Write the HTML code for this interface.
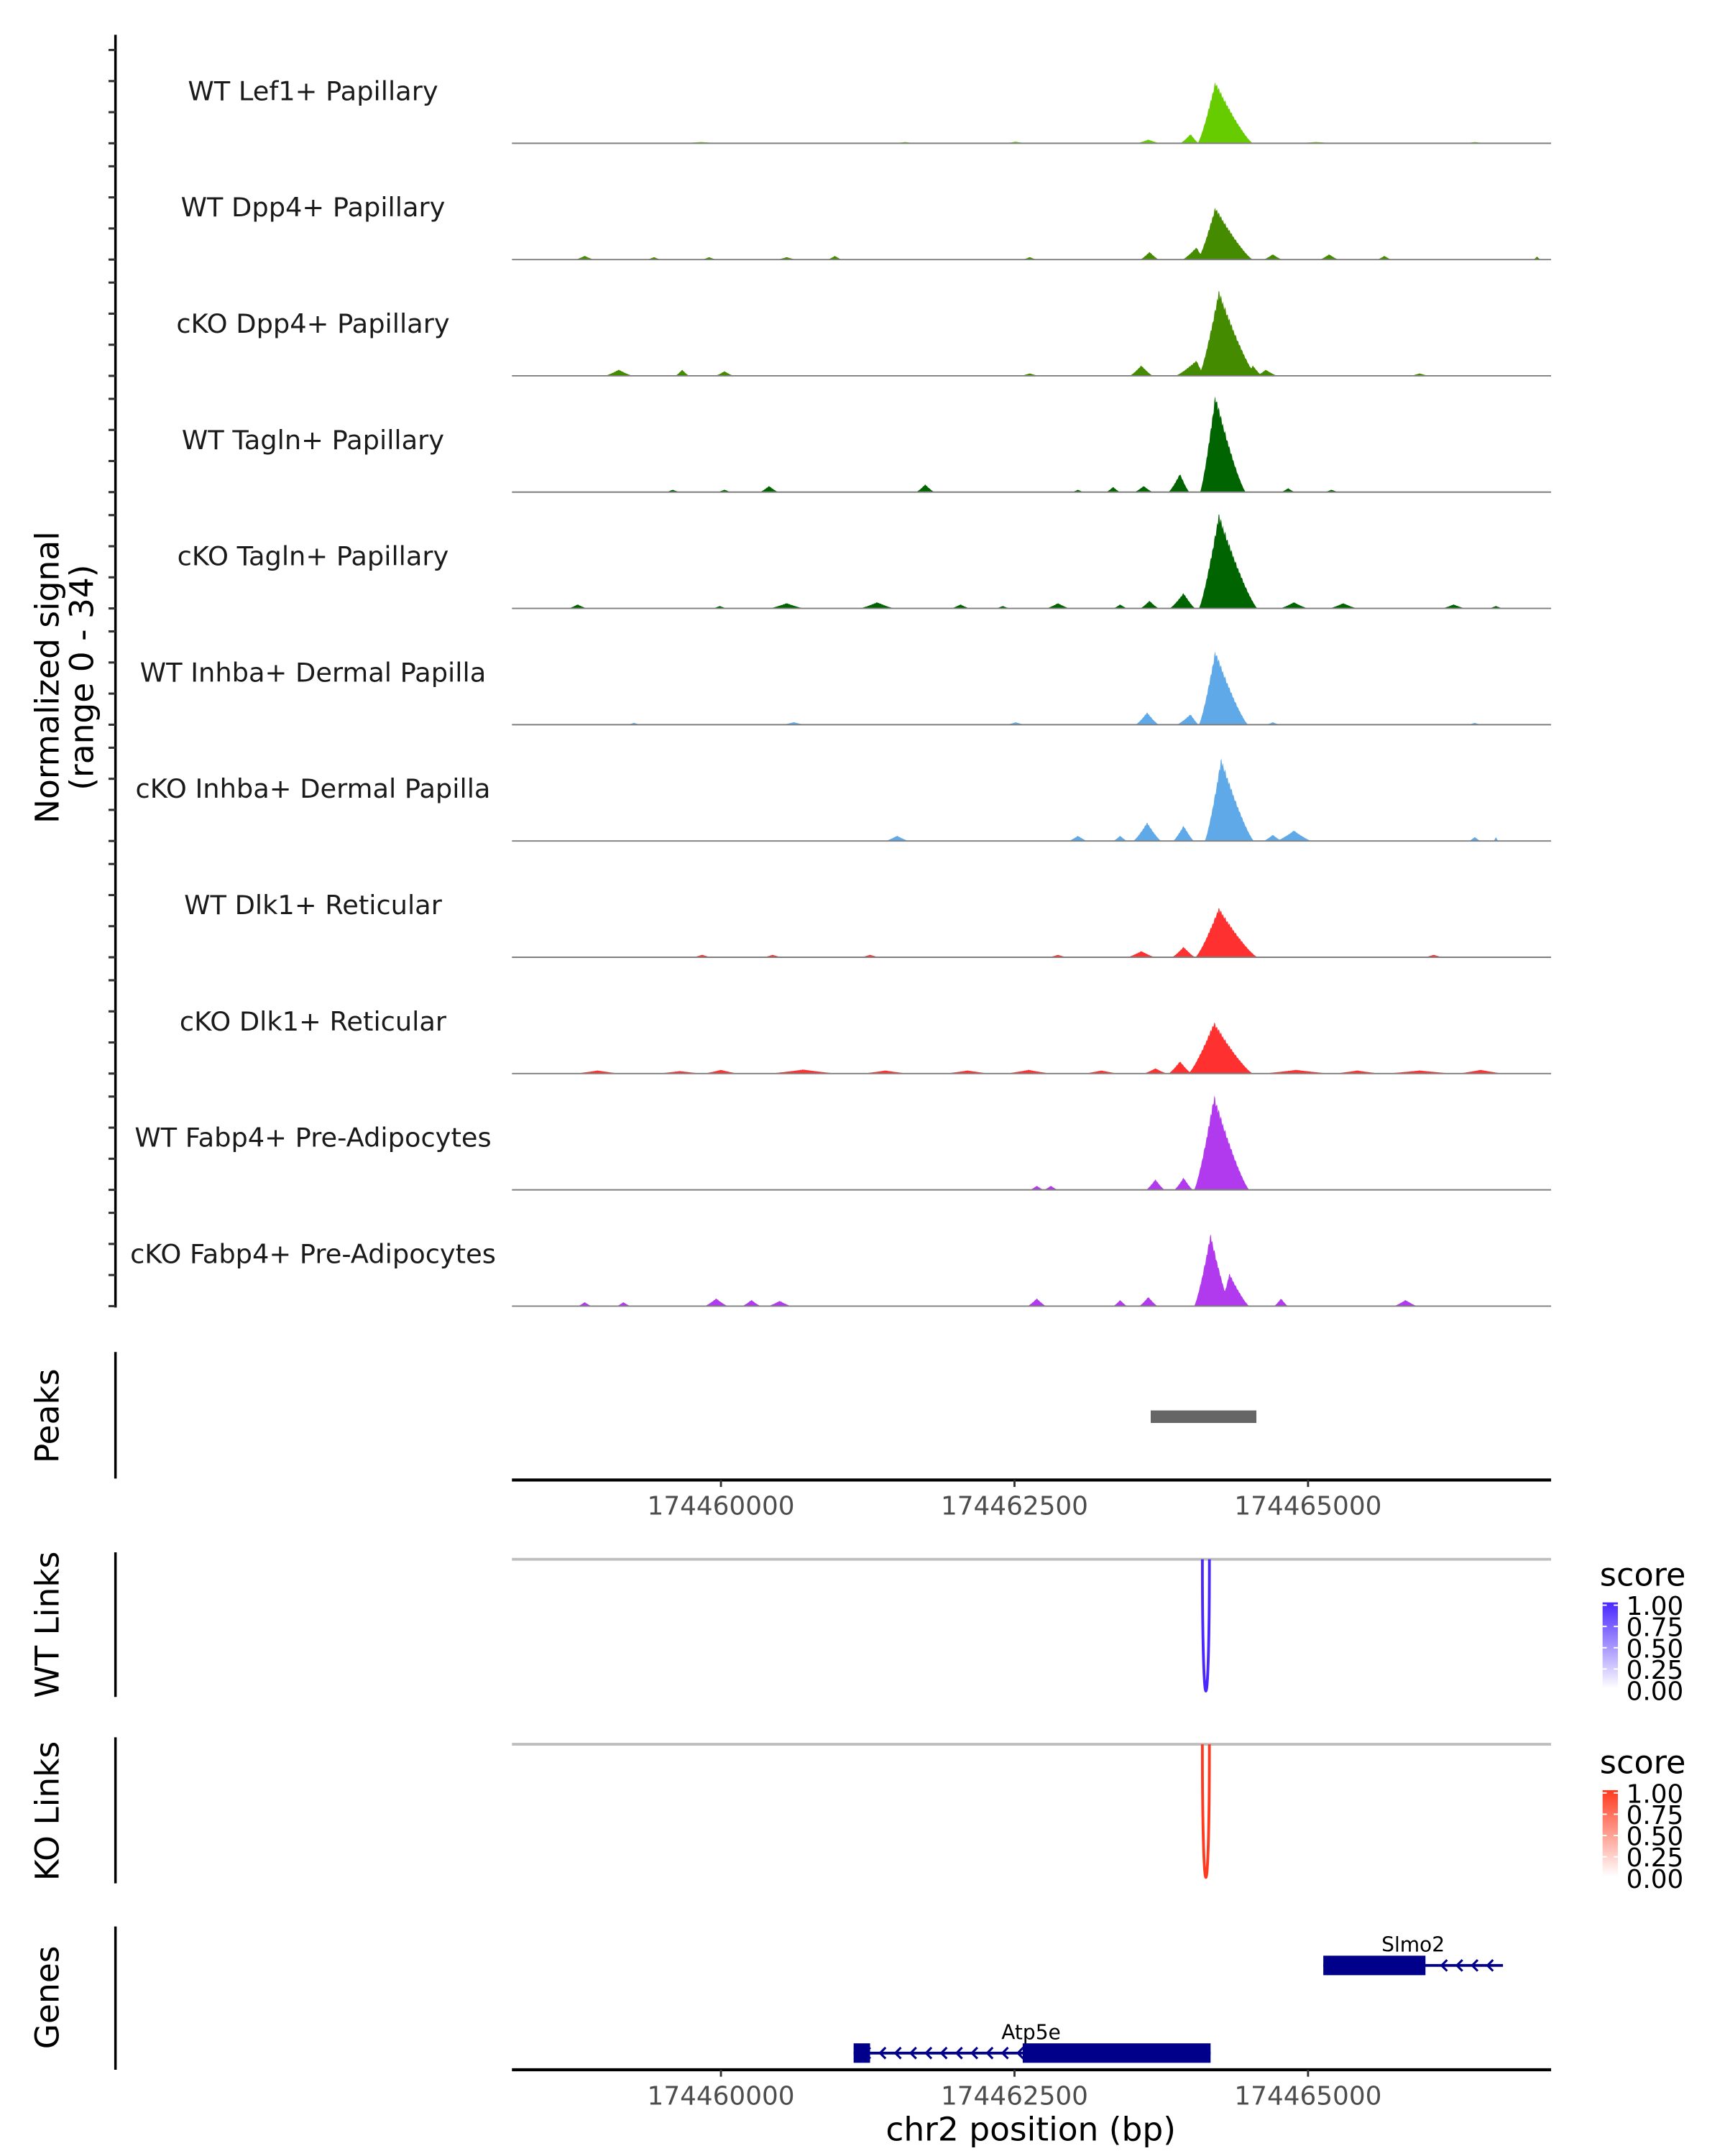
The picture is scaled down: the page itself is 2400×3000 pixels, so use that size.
<!DOCTYPE html>
<html><head><meta charset="utf-8">
<style>
html,body{margin:0;padding:0;background:#fff;}
svg{display:block;font-family:"DejaVu Sans","Liberation Sans",sans-serif;}
</style></head>
<body>
<svg id="chart" width="2400" height="3000" viewBox="0 0 1240 1550" preserveAspectRatio="none" xmlns="http://www.w3.org/2000/svg">
<text transform="translate(42,487) rotate(-90)" text-anchor="middle" font-size="23.5" fill="#000">Normalized signal</text>
<text transform="translate(67,487) rotate(-90)" text-anchor="middle" font-size="23.5" fill="#000">(range 0 - 34)</text>
<text transform="translate(42,1018) rotate(-90)" text-anchor="middle" font-size="23.5">Peaks</text>
<text transform="translate(42,1168) rotate(-90)" text-anchor="middle" font-size="23.5">WT Links</text>
<text transform="translate(42,1302) rotate(-90)" text-anchor="middle" font-size="23.5">KO Links</text>
<text transform="translate(42,1436) rotate(-90)" text-anchor="middle" font-size="23.5">Genes</text>
<text x="741" y="1539" text-anchor="middle" font-size="23.5">chr2 position (bp)</text>
<g id="g"></g>
</svg>
<script>
// ---- data ----
const regionStartKb = 174458.22;
const regionEndKb = 174467.07;
const yMax = 34;
const xTicks = [174460000, 174462500, 174465000];
const yTicks = [0, 10, 20, 30];
const trackNames = ["WT Lef1+ Papillary","WT Dpp4+ Papillary","cKO Dpp4+ Papillary","WT Tagln+ Papillary","cKO Tagln+ Papillary","WT Inhba+ Dermal Papilla","cKO Inhba+ Dermal Papilla","WT Dlk1+ Reticular","cKO Dlk1+ Reticular","WT Fabp4+ Pre-Adipocytes","cKO Fabp4+ Pre-Adipocytes"];
const trackColors = ["#66cc00","#458b00","#458b00","#006400","#006400","#5fa9e8","#5fa9e8","#ff3030","#ff3030","#b23aee","#b23aee"];
// bumps: [center kb, value, left width kb, right width kb]
const sigLef1 = [[174464.21,20,0.15,0.32],[174464.00,3,0.09,0.07],[174463.64,1.2,0.1,0.1],[174462.51,0.5,0.1,0.1],[174461.57,0.4,0.1,0.1],[174459.83,0.4,0.2,0.2],[174466.42,0.4,0.1,0.1],[174465.07,0.4,0.2,0.2]];
const sigWtDpp4 = [[174464.21,17,0.15,0.32],[174464.05,4,0.12,0.07],[174463.65,2.5,0.08,0.08],[174464.70,1.7,0.08,0.08],[174465.18,1.7,0.08,0.08],[174465.65,1.2,0.06,0.06],[174458.84,1.2,0.08,0.08],[174459.43,0.8,0.06,0.06],[174459.90,0.8,0.06,0.06],[174460.56,0.8,0.08,0.08],[174460.97,1.2,0.06,0.06],[174462.63,0.8,0.06,0.06],[174466.95,1,0.03,0.03]];
const sigKoDpp4 = [[174464.24,27.6,0.17,0.32],[174463.58,3.4,0.1,0.1],[174464.05,5,0.18,0.07],[174464.53,3.4,0.06,0.08],[174464.64,2,0.08,0.1],[174459.13,2,0.12,0.12],[174459.67,2,0.06,0.06],[174460.03,1.5,0.08,0.08],[174462.63,0.8,0.08,0.08],[174465.95,0.8,0.08,0.08]];
const sigWtTagln = [[174464.21,31.5,0.13,0.26],[174463.91,6,0.1,0.08],[174463.60,2,0.08,0.08],[174463.34,1.7,0.06,0.06],[174463.04,0.8,0.05,0.05],[174461.74,2.5,0.08,0.08],[174460.41,2,0.08,0.08],[174459.59,0.8,0.06,0.06],[174460.03,0.8,0.06,0.06],[174464.83,1.3,0.06,0.06],[174465.20,0.8,0.06,0.06]];
const sigKoTagln = [[174464.24,30.6,0.17,0.33],[174463.94,5,0.12,0.1],[174463.65,2.5,0.08,0.08],[174462.87,1.7,0.1,0.1],[174463.40,1.3,0.06,0.06],[174461.33,2,0.15,0.15],[174460.56,1.7,0.15,0.15],[174458.78,1.3,0.08,0.08],[174459.99,0.8,0.06,0.06],[174462.04,1.3,0.08,0.08],[174462.40,0.8,0.06,0.06],[174464.88,2,0.12,0.12],[174465.30,1.7,0.12,0.12],[174466.24,1.3,0.1,0.1],[174466.60,0.8,0.06,0.06]];
const sigWtInhba = [[174464.21,24,0.14,0.28],[174463.63,4,0.1,0.1],[174464.00,3.4,0.12,0.07],[174464.70,0.8,0.06,0.06],[174460.62,0.8,0.1,0.1],[174459.26,0.6,0.06,0.06],[174462.51,0.8,0.08,0.08],[174466.42,0.6,0.06,0.06]];
const sigKoInhba = [[174464.26,26.8,0.14,0.28],[174463.63,6,0.12,0.12],[174463.94,5,0.09,0.09],[174464.88,3.4,0.15,0.15],[174464.70,2,0.08,0.08],[174461.50,1.7,0.1,0.1],[174463.04,1.7,0.08,0.08],[174463.40,1.7,0.06,0.06],[174466.42,1.3,0.05,0.05],[174466.60,1.3,0.02,0.02]];
const sigWtDlk1 = [[174464.24,16,0.2,0.33],[174463.94,3.4,0.1,0.1],[174463.58,2,0.12,0.12],[174462.87,0.8,0.08,0.08],[174459.84,0.8,0.08,0.08],[174460.44,0.8,0.08,0.08],[174461.27,0.8,0.08,0.08],[174466.07,0.8,0.08,0.08]];
const sigKoDlk1 = [[174464.20,16.6,0.22,0.33],[174463.91,4,0.1,0.1],[174463.70,1.7,0.1,0.1],[174458.95,1,0.2,0.2],[174459.65,0.8,0.2,0.2],[174460.00,1.2,0.15,0.15],[174460.70,1.3,0.3,0.3],[174461.40,1,0.2,0.2],[174462.10,1,0.2,0.2],[174462.62,1.2,0.2,0.2],[174463.24,1,0.15,0.15],[174464.90,1.2,0.3,0.3],[174465.42,1,0.2,0.2],[174465.95,1,0.3,0.3],[174466.47,1.2,0.2,0.2]];
const sigWtFabp4 = [[174464.20,30.6,0.17,0.3],[174463.94,4,0.08,0.08],[174463.70,3.4,0.08,0.08],[174462.69,1.3,0.06,0.06],[174462.81,1.3,0.06,0.06],[174464.41,1.7,0.05,0.05]];
const sigKoFabp4 = [[174464.17,23.4,0.14,0.17],[174464.33,10.6,0.08,0.17],[174463.64,3,0.08,0.08],[174463.40,2,0.06,0.06],[174462.69,2.5,0.08,0.08],[174464.77,2.5,0.06,0.06],[174465.83,2,0.1,0.1],[174459.96,2.5,0.1,0.1],[174460.26,2,0.08,0.08],[174460.50,1.7,0.1,0.1],[174458.84,1.3,0.06,0.06],[174459.17,1.3,0.06,0.06]];
const trackSignals = [sigLef1,sigWtDpp4,sigKoDpp4,sigWtTagln,sigKoTagln,sigWtInhba,sigKoInhba,sigWtDlk1,sigKoDlk1,sigWtFabp4,sigKoFabp4];
const peakStartsKb = [174463.66];
const peakEndsKb = [174464.56];
const wtLinkStartKb = [174464.10];
const wtLinkEndKb = [174464.16];
const wtLinkScore = [1.0];
const koLinkStartKb = [174464.10];
const koLinkEndKb = [174464.16];
const koLinkScore = [1.0];
const legendTicks = ["1.00","0.75","0.50","0.25","0.00"];
const geneNames = ["Slmo2","Atp5e"];
const geneStartKb = [174465.13, 174461.13];
const geneEndKb = [174466.66, 174464.17];
const geneCdsStartKb = [174465.13, 174462.57];
const geneCdsEndKb = [174466.00, 174464.17];
const geneUtrStartKb = [null, 174461.13];
const geneUtrEndKb = [null, 174461.27];

// ---- layout ----
const NS = "http://www.w3.org/2000/svg";
const g = document.getElementById("g");
const X0 = 368, X1 = 1115;
function xs(kb){ return X0 + (kb - regionStartKb) / (regionEndKb - regionStartKb) * (X1 - X0); }
const trackTop = 20, trackH = 83.6, plotH = 76;
function mk(tag, attrs, parent){ const e = document.createElementNS(NS, tag); for (const k in attrs) e.setAttribute(k, attrs[k]); (parent||g).appendChild(e); return e; }

let ax = mk("line",{x1:83,y1:25,x2:83,y2:940,stroke:"#000","stroke-width":1.8});



trackNames.forEach((name, i) => {
  const base = trackTop + trackH * (i + 1) - 0.6;
  const ys = v => base - v / yMax * plotH;
  yTicks.forEach(t => {
    const tk = mk("line",{x1:78,x2:83,y1:ys(t),y2:ys(t),stroke:"#333","stroke-width":1.6});
    
    
  });
  const sig = trackSignals[i];
  let d = "M" + X0 + "," + base;
  let step = 0;
  for (let kb = regionStartKb; kb <= regionEndKb + 1e-9; kb += 0.006) {
    let v = 0;
    sig.forEach(b => {
      const dx = kb - b[0];
      const w = dx < 0 ? b[2] : b[3];
      const f = 1 - Math.abs(dx) / w;
      if (f > 0) v = Math.max(v, b[1] * Math.pow(f, 1.25));
    });
    // jagged coverage texture
    if (v > 0.5) v *= (step % 3 === 0 ? 0.93 : (step % 5 === 0 ? 0.97 : 1));
    step++;
    d += " L" + xs(kb).toFixed(2) + "," + ys(v).toFixed(2);
  }
  d += " L" + X1 + "," + base + " Z";
  const p = mk("path",{d:d,fill:trackColors[i]});
  
  
  const bl = mk("line",{x1:X0,x2:X1,y1:base,y2:base,stroke:"#7f7f7f","stroke-width":1});
  
  
  const lb = mk("text",{x:225,y:base-31,"text-anchor":"middle","font-size":19,fill:"#1a1a1a"});
  lb.textContent = name;
  
  
});

function xAxis(y, nameTag){
  const l = mk("line",{x1:X0,x2:X1,y1:y,y2:y,stroke:"#000","stroke-width":2.2});
  
  
  xTicks.forEach(t => {
    const x = xs(t / 1000);
    const tk = mk("line",{x1:x,x2:x,y1:y,y2:y+5,stroke:"#333","stroke-width":1.5});
    
    
    const tx = mk("text",{x:x,y:y+25,"text-anchor":"middle","font-size":18.5,fill:"#4d4d4d"});
    tx.textContent = String(t);
    
    
  });
}
function vAxis(y1,y2,nameTag){
  const l = mk("line",{x1:83,x2:83,y1:y1,y2:y2,stroke:"#000","stroke-width":1.8});
  
  
}

vAxis(972,1063,'peaks-axis-line');
peakStartsKb.forEach((s, i) => {
  const r = mk("rect",{x:xs(s),y:1014,width:xs(peakEndsKb[i])-xs(s),height:9,fill:"#666666"});
  
  
});
xAxis(1064,'peaks-x-axis');

function links(top, bottom, starts, ends, scores, color, nameTag, legendTop, gradId, lowColor){
  vAxis(top-5, bottom+4, nameTag + '-axis-line');
  const gl = mk("line",{x1:X0,x2:X1,y1:top,y2:top,stroke:"#bebebe","stroke-width":2});
  
  
  starts.forEach((s, i) => {
    const a = xs(s), b = xs(ends[i]), depth = (bottom - top) * scores[i];
    const p = mk("path",{d:"M"+a+","+top+" C"+a+","+(top+depth*1.33)+" "+b+","+(top+depth*1.33)+" "+b+","+top,fill:"none",stroke:color,"stroke-width":2});
    
    
  });
  const defs = mk("defs",{});
  const lg = mk("linearGradient",{id:gradId,x1:0,y1:1,x2:0,y2:0},defs);
  mk("stop",{offset:"0","stop-color":lowColor},lg);
  mk("stop",{offset:"1","stop-color":color},lg);
  const tt = mk("text",{x:1150,y:legendTop,"font-size":23}); tt.textContent = "score";
  
  
  const cb = mk("rect",{x:1152,y:legendTop+12,width:11,height:62,fill:"url(#"+gradId+")"});
  
  
  legendTicks.forEach((t, k) => {
    const y = legendTop + 14 + k * 15.3;
    mk("line",{x1:1152,x2:1155,y1:y,y2:y,stroke:"#fff","stroke-width":1});
    mk("line",{x1:1160,x2:1163,y1:y,y2:y,stroke:"#fff","stroke-width":1});
    const tx = mk("text",{x:1169,y:y+7,"font-size":18.5}); tx.textContent = t;
    
    
  });
}
links(1121, 1216, wtLinkStartKb, wtLinkEndKb, wtLinkScore, "#4a26ff", "wt-links", 1140, "gW", "#ffffff");
links(1254, 1350, koLinkStartKb, koLinkEndKb, koLinkScore, "#ff3a1f", "ko-links", 1275, "gK", "#ffffff");

vAxis(1385,1488,'genes-axis-line');
const geneRowY = [1413, 1476];
geneNames.forEach((n, i) => {
  const y = geneRowY[i], col = "#00008b";
  const ln = mk("line",{x1:xs(geneStartKb[i]),x2:xs(geneEndKb[i]),y1:y,y2:y,stroke:col,"stroke-width":2});
  
  
  const a0 = xs(geneStartKb[i]), a1 = xs(geneEndKb[i]);
  for (let x = a0 + 8; x < a1 - 2; x += 11) {
    const inside = (x > xs(geneCdsStartKb[i]) - 2 && x < xs(geneCdsEndKb[i]) + 6);
    if (inside) continue;
    mk("path",{d:"M"+(x+4)+","+(y-4)+" L"+x+","+y+" L"+(x+4)+","+(y+4),fill:"none",stroke:col,"stroke-width":1.6});
  }
  const cds = mk("rect",{x:xs(geneCdsStartKb[i]),y:y-7,width:xs(geneCdsEndKb[i])-xs(geneCdsStartKb[i]),height:14,fill:col});
  
  
  if (geneUtrStartKb[i] !== null) {
    const u = mk("rect",{x:xs(geneUtrStartKb[i]),y:y-7,width:xs(geneUtrEndKb[i])-xs(geneUtrStartKb[i]),height:14,fill:col});
    
    
  }
  const lbl = mk("text",{x:(i===0? (xs(geneStartKb[i])+xs(geneEndKb[i]))/2 : xs(geneCdsStartKb[i])+6),y:y-10,"text-anchor":"middle","font-size":14.5});
  lbl.textContent = n;
  
  
});
xAxis(1488,'genes-x-axis');
</script>
</body></html>
